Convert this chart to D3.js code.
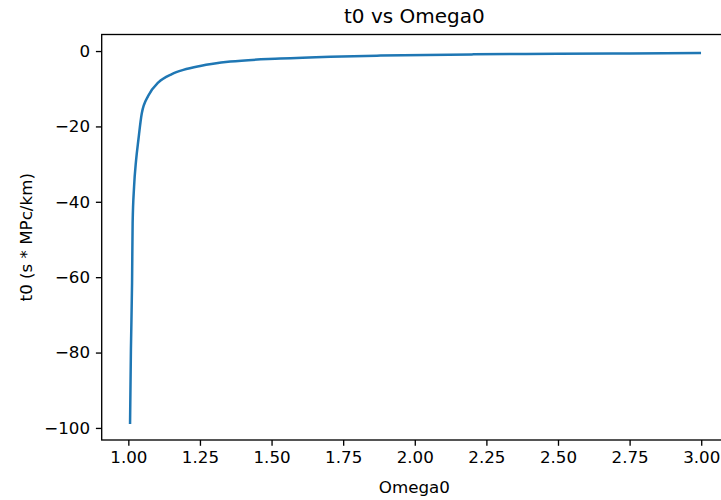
<!DOCTYPE html>
<html>
<head>
<meta charset="utf-8">
<script src="https://cdn.jsdelivr.net/npm/d3@7"></script>
<style>
  body { margin: 0; background: #fff; }
  text { font-family: "DejaVu Sans", sans-serif; fill: #000; }
</style>
</head>
<body>
<div id="chart"></div>
<script>
// values
const omega = [1.006, 1.009, 1.013, 1.015, 1.020, 1.027, 1.035, 1.047, 1.070, 1.105, 1.152,
  1.192, 1.251, 1.356, 1.53, 1.705, 1.88, 2.205, 2.5, 2.75, 2.995];
const t0 = [-98.6, -79.2, -61.5, -45.6, -36.0, -29.0, -23.6, -16.5, -11.8, -8.3, -6.1,
  -5.0, -3.95, -2.8, -2.0, -1.5, -1.2, -0.88, -0.72, -0.62, -0.53];
const xTicks = [1.00, 1.25, 1.50, 1.75, 2.00, 2.25, 2.50, 2.75, 3.00];
const yTicks = [0, -20, -40, -60, -80, -100];

const width = 721, height = 500;
const box = { left: 101.7, right: 727, top: 34.5, bottom: 440 };

const svg = d3.select('#chart').append('svg')
  .attr('width', width)
  .attr('height', height);

const x = d3.scaleLinear().domain([0.907, 3.09]).range([box.left, box.right]);
const y = d3.scaleLinear().domain([-103.2, 4.39]).range([box.bottom, box.top]);

const minus = s => s.replace('-', '\u2212');

// x axis
const xAxis = svg.append('g')
  .attr('transform', `translate(0,${box.bottom})`)
  .call(d3.axisBottom(x).tickValues(xTicks).tickFormat(d3.format('.2f')).tickSizeOuter(0).tickSize(5.8).tickPadding(5.8));
xAxis.select('.domain').remove();
xAxis.selectAll('.tick line').attr('stroke', '#000').attr('stroke-width', 1.33);
xAxis.selectAll('.tick text').style('font-size', '16.7px').attr('fill', '#000');

// y axis
const yAxis = svg.append('g')
  .attr('transform', `translate(${box.left},0)`)
  .call(d3.axisLeft(y).tickValues(yTicks).tickFormat(d => minus(String(d))).tickSizeOuter(0).tickSize(5.8).tickPadding(5.8));
yAxis.select('.domain').remove();
yAxis.selectAll('.tick line').attr('stroke', '#000').attr('stroke-width', 1.33);
yAxis.selectAll('.tick text').style('font-size', '16.7px').attr('fill', '#000');

// the curve
const line = d3.line()
  .x((d, i) => x(omega[i]))
  .y(d => y(d))
  .curve(d3.curveMonotoneX);

svg.append('path')
  .datum(t0)
  .attr('d', line)
  .attr('fill', 'none')
  .attr('stroke', '#1f77b4')
  .attr('stroke-width', 2.5)
  .attr('stroke-linecap', 'square');

// spines
svg.append('rect')
  .attr('x', box.left)
  .attr('y', box.top)
  .attr('width', box.right - box.left)
  .attr('height', box.bottom - box.top)
  .attr('fill', 'none')
  .attr('stroke', '#000')
  .attr('stroke-width', 1.33);

// title and labels
const midX = (box.left + box.right) / 2;
svg.append('text')
  .attr('x', midX).attr('y', 23)
  .attr('text-anchor', 'middle')
  .style('font-size', '20px')
  .text('t0 vs Omega0');

svg.append('text')
  .attr('x', midX).attr('y', 492.5)
  .attr('text-anchor', 'middle')
  .style('font-size', '16.7px')
  .text('Omega0');

svg.append('text')
  .attr('transform', `translate(32,${(box.top + box.bottom) / 2}) rotate(-90)`)
  .attr('text-anchor', 'middle')
  .style('font-size', '16.7px')
  .text('t0 (s * MPc/km)');
</script>
</body>
</html>
